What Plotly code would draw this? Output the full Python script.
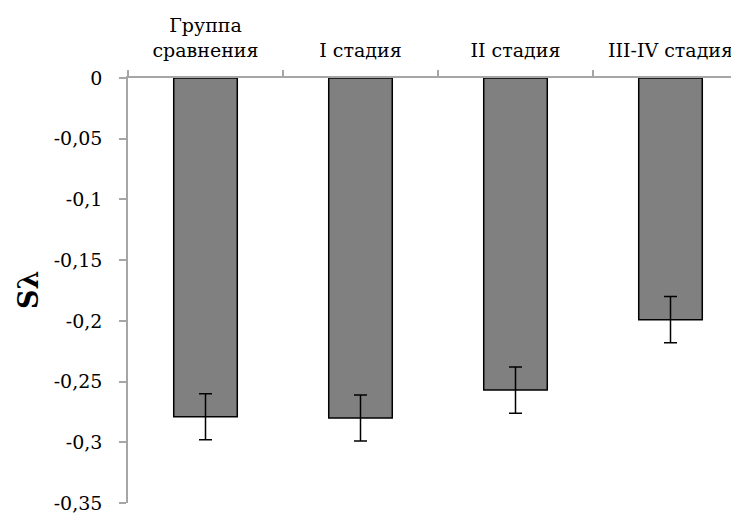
import plotly.graph_objects as go

categories = ["Группа<br>сравнения", "I стадия", "II стадия", "III-IV стадия"]
values = [-0.279, -0.280, -0.257, -0.199]
errors = [0.019, 0.019, 0.019, 0.019]
y_ticks = [0, -0.05, -0.1, -0.15, -0.2, -0.25, -0.3, -0.35]
y_ticktext = [f"{v:g}".replace(".", ",") for v in y_ticks]

FONT = "DejaVu Serif, serif"
AXIS = "#a6a6a6"

fig = go.Figure(
    go.Bar(
        x=categories,
        y=values,
        width=0.41,
        marker=dict(color="#808080", line=dict(color="black", width=1.5)),
        error_y=dict(type="data", array=errors, visible=True,
                     color="black", thickness=1.5, width=6.5),
    )
)

# page body has an 8px margin: figure placed at (8, 8)
fig.update_layout(
    width=731, height=508,
    margin=dict(l=120, r=0, t=70, b=13, autoexpand=False),
    plot_bgcolor="white", paper_bgcolor="white",
    showlegend=False,
    font=dict(family=FONT, size=19, color="black"),
)

fig.update_xaxes(
    side="top", type="category", automargin=False,
    range=[-0.5, -0.5 + 611 / 155],
    showline=True, linecolor=AXIS, linewidth=1.5,
    ticks="outside", tickson="boundaries", ticklen=6, tickcolor=AXIS, tickwidth=1.5,
    showgrid=False, zeroline=False,
    tickfont=dict(family=FONT, size=19, color="black"),
    ticklabelstandoff=12,
)

fig.update_yaxes(
    range=[-0.35, 0], automargin=False,
    tickvals=y_ticks, ticktext=y_ticktext,
    showline=True, linecolor=AXIS, linewidth=1.5,
    ticks="outside", ticklen=7, tickcolor=AXIS, tickwidth=1.5,
    showgrid=False, zeroline=False,
    tickfont=dict(family=FONT, size=19, color="black"),
    ticklabelstandoff=13,
)

fig.add_annotation(
    text="<b>Sλ</b>", xref="paper", yref="paper",
    x=(28 - 128) / 611, y=(503 - 290) / 425,
    xanchor="center", yanchor="middle",
    textangle=-90, showarrow=False,
    font=dict(family=FONT, size=27, color="black"),
)

fig.write_html("out.html")
